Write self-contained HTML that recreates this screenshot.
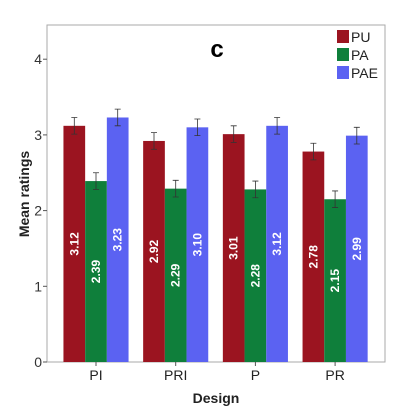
<!DOCTYPE html>
<html><head><meta charset="utf-8"><style>
body{margin:0;background:#fff;}
svg{display:block;font-family:"Liberation Sans",sans-serif;}
</style></head><body>
<svg id="chart" width="413" height="410"></svg>
<script>
const categories=["PI","PRI","P","PR"];
const seriesNames=["PU","PA","PAE"];
const puValues=[3.12,2.92,3.01,2.78];
const paValues=[2.39,2.29,2.28,2.15];
const paeValues=[3.23,3.10,3.12,2.99];
const errValues=[0.11,0.11,0.11,0.11];
const yTicks=[0,1,2,3,4];
const colors=["#9b1420","#0f7f3b","#5b62f2"];
const series=[puValues,paValues,paeValues];
const svg=document.getElementById('chart');
const NS="http://www.w3.org/2000/svg";
const L=47,R=385,T=25,B=362;
const y=v=>B-v*75.7;
const xc=i=>96+i*79.7;
const bw=21.7;
function mk(t,a,txt){const e=document.createElementNS(NS,t);for(const k in a)e.setAttribute(k,a[k]);if(txt!=null)e.textContent=txt;svg.appendChild(e);return e;}
let e;
e=mk('rect',{x:L,y:T,width:R-L,height:B-T,fill:'none',stroke:'#aaa','stroke-width':1});

yTicks.forEach(t=>{
 e=mk('line',{x1:L-4,x2:L,y1:y(t),y2:y(t),stroke:'#555'});
 
 e=mk('text',{x:L-5,y:y(t)+5,'text-anchor':'end','font-size':14,fill:'#333'},t);
 
});
categories.forEach((c,i)=>{
 e=mk('line',{x1:xc(i),x2:xc(i),y1:B,y2:B+4,stroke:'#555'});
 
 e=mk('text',{x:xc(i),y:380,'text-anchor':'middle','font-size':14,fill:'#222'},c);
 
 series.forEach((s,j)=>{
  const x0=xc(i)-1.5*bw+j*bw, v=s[i];
  e=mk('rect',{x:x0,y:y(v),width:bw,height:B-y(v),fill:colors[j]});
  
  const cx=x0+bw/2, er=errValues[i];
  e=mk('path',{d:`M${cx},${y(v+er)}V${y(v-er)}M${cx-3},${y(v+er)}H${cx+3}M${cx-3},${y(v-er)}H${cx+3}`,stroke:'#333','stroke-width':0.8,fill:'none'});
  
  const my=(y(v)+B)/2;
  e=mk('text',{x:cx,y:my,transform:`rotate(-90 ${cx} ${my})`,'text-anchor':'middle','dominant-baseline':'central','font-size':12,'font-weight':'bold',fill:'#fff'},v.toFixed(2));
  
 });
});
seriesNames.forEach((n,j)=>{
 e=mk('rect',{x:337,y:30+j*18,width:12,height:13,fill:colors[j]});
 
 e=mk('text',{x:351,y:42+j*18,'font-size':14,fill:'#222'},n);
 
});
e=mk('text',{x:217,y:57,'text-anchor':'middle','font-size':24,'font-weight':'bold',fill:'#000'},'c');

e=mk('text',{x:216,y:403,'text-anchor':'middle','font-size':14,'font-weight':'bold',fill:'#222'},'Design');

e=mk('text',{x:29,y:194,transform:'rotate(-90 29 194)','text-anchor':'middle','font-size':14,'font-weight':'bold',fill:'#222'},'Mean ratings');

</script>
</body></html>
